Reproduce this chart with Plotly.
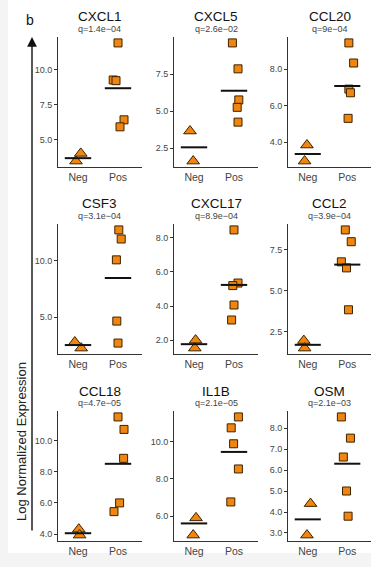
import plotly.graph_objects as go

W, H = 371, 567

genes = ["CXCL1", "CXCL5", "CCL20", "CSF3", "CXCL17", "CCL2", "CCL18", "IL1B", "OSM"]
qvals = ["q=1.4e−04", "q=2.6e−02", "q=9e−04", "q=3.1e−04", "q=8.9e−04",
         "q=3.9e−04", "q=4.7e−05", "q=2.1e−05", "q=2.1e−03"]
groups = ["Neg", "Pos"]

# log-normalized expression per sample
neg_vals = [
    [3.45, 4.0],
    [3.65, 1.62],
    [3.84, 2.96],
    [2.77, 2.23],
    [2.0, 1.53],
    [1.96, 1.5],
    [4.32, 3.94],
    [5.9, 4.97],
    [4.4, 2.9],
]
pos_vals = [
    [11.9, 9.25, 9.2, 6.4, 5.9],
    [9.6, 7.85, 5.75, 5.25, 4.25],
    [9.43, 8.33, 6.9, 6.7, 5.3],
    [12.77, 11.96, 10.1, 4.64, 2.68],
    [8.47, 5.35, 5.2, 4.06, 3.18],
    [8.72, 8.0, 6.77, 6.4, 3.84],
    [11.5, 10.7, 8.85, 6.0, 5.44],
    [11.35, 10.76, 9.9, 8.54, 6.76],
    [8.53, 7.52, 6.62, 5.0, 3.8],
]

# group mean bars
neg_mean = [3.66, 2.55, 3.35, 2.5, 1.76, 1.7, 4.06, 5.6, 3.65]
pos_mean = [8.66, 6.37, 7.07, 8.48, 5.24, 6.6, 8.5, 9.46, 6.3]

# horizontal jitter (category units)
neg_jitter = [
    [-0.05, 0.07], [-0.10, -0.02], [-0.02, -0.08], [-0.08, 0.08], [0.04, 0.02],
    [-0.10, -0.08], [0.02, 0.04], [0.05, -0.02], [0.07, -0.02],
]
pos_jitter = [
    [0.0, -0.12, -0.05, 0.15, 0.05],
    [-0.04, 0.10, 0.12, 0.08, 0.10],
    [0.04, 0.16, 0.04, 0.08, 0.02],
    [0.02, 0.08, -0.04, -0.03, 0.0],
    [0.0, 0.10, -0.03, 0.0, -0.06],
    [-0.05, 0.10, -0.15, -0.02, 0.03],
    [0.0, 0.15, 0.14, 0.04, -0.10],
    [0.11, -0.07, -0.01, 0.11, -0.08],
    [-0.15, 0.08, -0.10, -0.02, 0.02],
]

tick_vals = [
    [5.0, 7.5, 10.0],
    [2.5, 5.0, 7.5, 10.0],
    [4.0, 6.0, 8.0],
    [5.0, 10.0],
    [2.0, 4.0, 6.0, 8.0],
    [2.5, 5.0, 7.5],
    [4.0, 6.0, 8.0, 10.0],
    [6.0, 8.0, 10.0],
    [3.0, 4.0, 5.0, 6.0, 7.0, 8.0],
]

# panel placement in pixels
col_px = [(58, 142), (174, 258), (288, 371)]
row_px = [(37, 167), (224, 354), (411, 541)]
title_y = [16, 203, 391]
q_y = [29, 216, 403]

FILL = "#F0860F"
EDGE = "#3d2200"
AXC = "#333333"
FONT = "Liberation Sans"

fig = go.Figure()
layout = dict(
    width=W, height=H,
    margin=dict(l=0, r=0, t=0, b=0),
    paper_bgcolor="#f4f4f4",
    plot_bgcolor="white",
    showlegend=False,
    font=dict(family=FONT, color="#333333"),
)

annotations = []
for i, gene in enumerate(genes):
    r, c = divmod(i, 3)
    n = i + 1
    xa = "x" if n == 1 else f"x{n}"
    ya = "y" if n == 1 else f"y{n}"
    x0, x1 = col_px[c]
    y0, y1 = row_px[r]

    vals = neg_vals[i] + pos_vals[i]
    lo, hi = min(vals), max(vals)
    pad = 0.05 * (hi - lo)

    layout["xaxis" if n == 1 else f"xaxis{n}"] = dict(
        domain=[x0 / W, x1 / W], range=[-0.5, 1.6], anchor=ya,
        tickvals=[0, 1], ticktext=groups, showgrid=False, zeroline=False,
        showline=True, linecolor=AXC, linewidth=1, ticks="",
        tickfont=dict(size=10.5, color="#444444", family=FONT),
    )
    layout["yaxis" if n == 1 else f"yaxis{n}"] = dict(
        domain=[1 - y1 / H, 1 - y0 / H], range=[lo - pad, hi + pad], anchor=xa,
        tickvals=tick_vals[i], ticktext=[f"{v:.1f}" for v in tick_vals[i]],
        showgrid=False, zeroline=False, showline=True, linecolor=AXC, linewidth=1,
        ticks="outside", ticklen=3, tickcolor=AXC, tickwidth=1,
        tickfont=dict(size=9, color="#444444", family=FONT),
    )

    fig.add_trace(go.Scatter(
        x=[0 + j for j in neg_jitter[i]], y=neg_vals[i], mode="markers",
        xaxis=xa, yaxis=ya, cliponaxis=False,
        marker=dict(symbol="triangle-up", size=11, color=FILL,
                    line=dict(color=EDGE, width=1)),
    ))
    fig.add_trace(go.Scatter(
        x=[1 + j for j in pos_jitter[i]], y=pos_vals[i], mode="markers",
        xaxis=xa, yaxis=ya, cliponaxis=False,
        marker=dict(symbol="square", size=8, color=FILL,
                    line=dict(color=EDGE, width=1)),
    ))
    for k, m in enumerate([neg_mean[i], pos_mean[i]]):
        fig.add_trace(go.Scatter(
            x=[k - 0.33, k + 0.33], y=[m, m], mode="lines",
            xaxis=xa, yaxis=ya, cliponaxis=False,
            line=dict(color="#111111", width=2),
        ))

    cx = (x0 + x1) / 2 / W
    annotations.append(dict(
        text=gene, x=cx, y=1 - title_y[r] / H, xref="paper", yref="paper",
        xanchor="center", yanchor="middle", showarrow=False,
        font=dict(size=13.5, color="#111111", family=FONT),
    ))
    annotations.append(dict(
        text=qvals[i], x=cx, y=1 - q_y[r] / H, xref="paper", yref="paper",
        xanchor="center", yanchor="middle", showarrow=False,
        font=dict(size=9, color="#444444", family=FONT),
    ))

# panel letter
annotations.append(dict(
    text="b", x=30 / W, y=1 - 20 / H, xref="paper", yref="paper",
    xanchor="center", yanchor="middle", showarrow=False,
    font=dict(size=14, color="#111111", family=FONT),
))
# shared y label with upward arrow
annotations.append(dict(
    text="Log Normalized Expression", x=21 / W, y=1 - 442 / H,
    xref="paper", yref="paper", xanchor="center", yanchor="middle",
    textangle=-90, showarrow=False,
    font=dict(size=13, color="#222222", family=FONT),
))
annotations.append(dict(
    text="", x=32 / W, y=1 - 37 / H, xref="paper", yref="paper",
    ax=0, ay=495, showarrow=True, arrowhead=2, arrowsize=1.4,
    arrowwidth=1.4, arrowcolor="#111111",
))
layout["annotations"] = annotations
layout["shapes"] = [dict(
    type="rect", xref="paper", yref="paper", x0=8 / W, x1=1, y0=1 - 553 / H, y1=1,
    fillcolor="white", line=dict(width=0), layer="below",
)]

fig.update_layout(**layout)
fig.write_html("out.html")
